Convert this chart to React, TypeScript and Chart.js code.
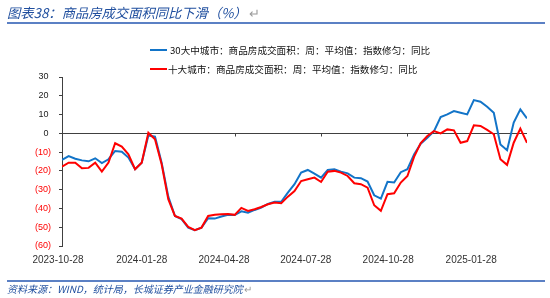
import React, { useEffect, useRef } from 'react';
import { Chart, registerables } from 'chart.js';

Chart.register(...registerables);

// week index of each weekly observation (2023-10-28 onward)
const weekIndex: number[] = Array.from({ length: 71 }, (_, i) => i);

const series30: number[] = [
  -14.2, -12.1, -13.5, -14.4, -14.9, -13.3, -15.8, -13.8, -9.4, -9.8,
  -12.9, -19.1, -15.6, -1.1, -1.8, -15.6, -33.7, -44.0, -45.7, -50.2,
  -51.6, -50.2, -45.2, -45.4, -44.3, -43.4, -43.5, -41.5, -42.3, -40.8,
  -39.5, -37.6, -36.5, -36.5, -31.6, -27.1, -20.9, -19.5, -21.5, -23.6,
  -19.5, -19.1, -20.4, -21.3, -23.6, -23.9, -25.7, -33.0, -34.8, -25.8,
  -26.2, -20.7, -19.1, -11.2, -5.5, -2.3, 1.2, 8.7, 10.1, 11.9,
  11.0, 10.1, 17.7, 16.8, 14.2, 11.0, -5.9, -9.0, 5.7, 12.8,
  8.0,
];

const series10: number[] = [
  -17.7, -15.6, -15.6, -18.6, -18.4, -15.6, -20.4, -15.6, -5.3, -7.1,
  -11.2, -19.1, -15.6, 0.3, -3.2, -16.5, -35.1, -44.0, -45.4, -49.8,
  -51.6, -50.2, -44.0, -43.4, -43.1, -42.9, -43.4, -39.7, -41.3, -40.4,
  -39.2, -37.8, -36.9, -37.2, -33.7, -30.7, -25.4, -24.5, -23.6, -25.9,
  -20.4, -20.0, -20.9, -22.7, -26.6, -27.1, -28.9, -38.3, -41.3, -32.4,
  -31.9, -26.2, -22.7, -12.5, -5.2, -1.4, 1.2, 0.0, 2.1, 1.6,
  -5.0, -4.1, 4.3, 3.9, 1.8, -0.5, -13.8, -16.8, -5.0, 2.5,
  -5.0,
];

const xTickLabels: string[] = ['2023-10-28', '2024-01-28', '2024-04-28', '2024-07-28', '2024-10-28', '2025-01-28'];
const xTickAt: number[] = [-0.6, 12.0, 24.4, 36.7, 49.1, 61.6];
const zeroTickEvery = 13;

const seriesNames: string[] = [
  '30大中城市：商品房成交面积：周：平均值：指数修匀：同比',
  '十大城市：商品房成交面积：周：平均值：指数修匀：同比',
];
const seriesColors: string[] = ['#1274C8', '#FF0000'];

const titleText = '图表38：商品房成交面积同比下滑（%）';
const sourceText = '资料来源：WIND，统计局，长城证券产业金融研究院';

const AXIS = '#404040';
const NUM_FONT = "'Liberation Sans', Arial, sans-serif";
const CJK_FONT = "'Noto Sans CJK SC', sans-serif";

const zeroLinePlugin = {
  id: 'zeroLine',
  beforeDatasetsDraw(chart: any) {
    const { ctx, chartArea, scales } = chart;
    const y0 = Math.round(scales.y.getPixelForValue(0)) + 0.5;
    ctx.save();
    ctx.strokeStyle = AXIS;
    ctx.lineWidth = 1;
    ctx.beginPath();
    ctx.moveTo(chartArea.left, y0);
    ctx.lineTo(chartArea.right, y0);
    for (let i = zeroTickEvery; i < weekIndex.length; i += zeroTickEvery) {
      const x = Math.round(scales.x.getPixelForValue(weekIndex[i])) + 0.5;
      ctx.moveTo(x, y0);
      ctx.lineTo(x, y0 + 3);
    }
    ctx.stroke();
    ctx.restore();
  },
};

export default function App() {
  const canvasRef = useRef<HTMLCanvasElement | null>(null);

  useEffect(() => {
    const canvas = canvasRef.current;
    if (!canvas) return;
    const chart = new Chart(canvas, {
      type: 'line',
      data: {
        labels: weekIndex,
        datasets: [
          {
            label: seriesNames[0],
            data: series30,
            borderColor: seriesColors[0],
            backgroundColor: seriesColors[0],
            borderWidth: 2,
            pointRadius: 0,
            tension: 0,
            order: 1,
          },
          {
            label: seriesNames[1],
            data: series10,
            borderColor: seriesColors[1],
            backgroundColor: seriesColors[1],
            borderWidth: 2,
            pointRadius: 0,
            tension: 0,
            order: 0,
          },
        ],
      },
      options: {
        animation: false,
        responsive: false,
        maintainAspectRatio: false,
        layout: { padding: { top: 77, right: 23, bottom: 0, left: 0 } },
        plugins: {
          legend: { display: false },
          title: { display: false },
          tooltip: { enabled: false },
        },
        scales: {
          x: {
            type: 'linear',
            min: 0,
            max: weekIndex.length - 1,
            grid: { display: false, drawTicks: false },
            border: { display: false },
            afterBuildTicks: (scale: any) => {
              scale.ticks = xTickAt.map((v) => ({ value: v }));
            },
            afterFit: (scale: any) => {
              scale.height = 52;
            },
            ticks: {
              autoSkip: false,
              maxRotation: 0,
              minRotation: 0,
              padding: 8,
              color: '#333333',
              font: { family: NUM_FONT, size: 10 },
              callback: (_v: any, i: number) => xTickLabels[i],
            },
          },
          y: {
            min: -60,
            max: 30,
            afterFit: (scale: any) => {
              scale.width = 62;
            },
            grid: {
              display: true,
              drawOnChartArea: false,
              drawTicks: true,
              tickLength: 3,
              color: AXIS,
            },
            border: { display: true, color: AXIS, width: 1 },
            ticks: {
              stepSize: 10,
              padding: 8,
              font: { family: NUM_FONT, size: 9 },
              color: (c: any) => (c.tick && c.tick.value < 0 ? '#FF0000' : '#222222'),
              callback: (v: any) => (v < 0 ? `(${-v})` : `${v} `),
            },
          },
        },
      },
      plugins: [zeroLinePlugin],
    });
    return () => chart.destroy();
  }, []);

  return (
    <div
      style={{
        position: 'fixed',
        left: 0,
        top: 0,
        width: 550,
        height: 298,
        background: '#ffffff',
        overflow: 'hidden',
      }}
    >
      <canvas ref={canvasRef} width={550} height={298} style={{ position: 'absolute', left: 0, top: 0 }} />
      <div
        style={{
          position: 'absolute',
          left: 7,
          top: 4,
          fontFamily: CJK_FONT,
          fontSize: 13.3,
          lineHeight: '18px',
          fontStyle: 'italic',
          color: '#1F4E9E',
          whiteSpace: 'nowrap',
        }}
      >
        {titleText}
        <span style={{ fontStyle: 'normal', color: '#9A9A9A', marginLeft: 2 }}>↵</span>
      </div>
      <div style={{ position: 'absolute', left: 7, top: 22, width: 538, height: 2, background: '#5B80C4' }} />
      {seriesNames.map((name, i) => (
        <div
          key={name}
          style={{
            position: 'absolute',
            left: 150,
            top: 42 + i * 19,
            height: 16,
            display: 'flex',
            alignItems: 'center',
            whiteSpace: 'nowrap',
          }}
        >
          <span style={{ display: 'inline-block', width: 17, height: 2, background: seriesColors[i], marginRight: i === 0 ? 3 : 1 }} />
          <span style={{ fontFamily: CJK_FONT, fontSize: 9.6, color: '#111111', lineHeight: '16px' }}>{name}</span>
        </div>
      ))}
      <div style={{ position: 'absolute', left: 7, top: 280, width: 538, height: 2, background: '#5B80C4' }} />
      <div
        style={{
          position: 'absolute',
          left: 7,
          top: 282,
          fontFamily: CJK_FONT,
          fontSize: 10,
          lineHeight: '13px',
          fontStyle: 'italic',
          color: '#1F4E9E',
          whiteSpace: 'nowrap',
        }}
      >
        {sourceText}
        <span style={{ fontStyle: 'normal', color: '#9A9A9A', marginLeft: 1 }}>↵</span>
      </div>
    </div>
  );
}
